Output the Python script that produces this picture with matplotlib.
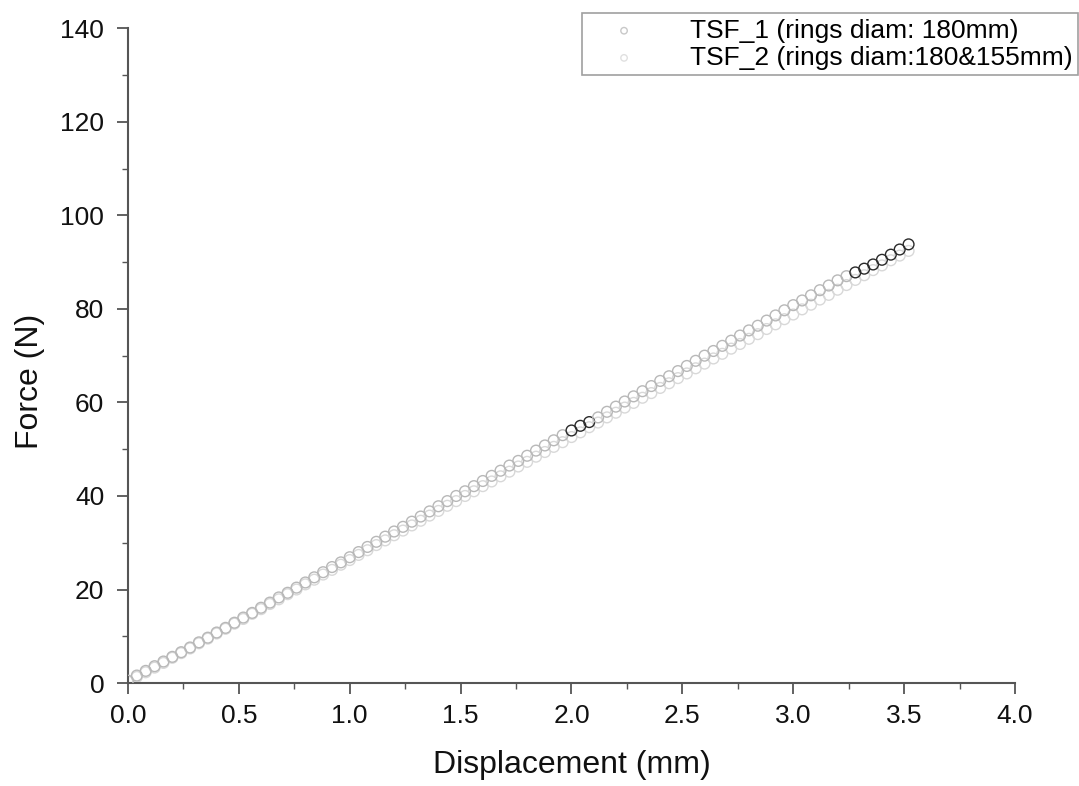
import matplotlib
matplotlib.use("Agg")
import matplotlib.pyplot as plt
from matplotlib.ticker import MultipleLocator

plt.rcParams['font.family'] = ['Liberation Sans', 'DejaVu Sans']

# Displacement (mm)
disp = [0.00, 0.04, 0.08, 0.12, 0.16, 0.20, 0.24, 0.28, 0.32, 0.36,
        0.40, 0.44, 0.48, 0.52, 0.56, 0.60, 0.64, 0.68, 0.72, 0.76,
        0.80, 0.84, 0.88, 0.92, 0.96, 1.00, 1.04, 1.08, 1.12, 1.16,
        1.20, 1.24, 1.28, 1.32, 1.36, 1.40, 1.44, 1.48, 1.52, 1.56,
        1.60, 1.64, 1.68, 1.72, 1.76, 1.80, 1.84, 1.88, 1.92, 1.96,
        2.00, 2.04, 2.08, 2.12, 2.16, 2.20, 2.24, 2.28, 2.32, 2.36,
        2.40, 2.44, 2.48, 2.52, 2.56, 2.60, 2.64, 2.68, 2.72, 2.76,
        2.80, 2.84, 2.88, 2.92, 2.96, 3.00, 3.04, 3.08, 3.12, 3.16,
        3.20, 3.24, 3.28, 3.32, 3.36, 3.40, 3.44, 3.48, 3.52]

# TSF_1 force (N)
tsf1 = [0.5, 1.6, 2.6, 3.6, 4.6, 5.6, 6.6, 7.6, 8.7, 9.7,
        10.8, 11.8, 12.9, 14.0, 15.0, 16.1, 17.2, 18.3, 19.3, 20.4,
        21.5, 22.6, 23.7, 24.8, 25.8, 26.9, 28.0, 29.1, 30.2, 31.3,
        32.4, 33.4, 34.5, 35.6, 36.7, 37.8, 38.9, 40.0, 41.0, 42.1,
        43.2, 44.3, 45.4, 46.5, 47.5, 48.6, 49.7, 50.8, 51.9, 53.0,
        54.0, 55.0, 55.8, 56.8, 58.0, 59.1, 60.2, 61.3, 62.4, 63.5,
        64.6, 65.6, 66.7, 67.8, 68.9, 70.0, 71.0, 72.1, 73.2, 74.3,
        75.4, 76.4, 77.5, 78.6, 79.7, 80.8, 81.8, 82.9, 84.0, 85.0,
        86.1, 87.0, 87.8, 88.6, 89.5, 90.5, 91.6, 92.7, 93.8]

# TSF_2 force (N)
tsf2 = [0.3, 1.3, 2.3, 3.3, 4.3, 5.4, 6.4, 7.4, 8.5, 9.5,
        10.6, 11.6, 12.7, 13.7, 14.8, 15.8, 16.9, 17.9, 19.0, 20.0,
        21.1, 22.1, 23.2, 24.2, 25.3, 26.3, 27.4, 28.4, 29.5, 30.5,
        31.6, 32.6, 33.7, 34.7, 35.8, 36.8, 37.9, 38.9, 40.0, 41.0,
        42.1, 43.1, 44.2, 45.2, 46.3, 47.3, 48.4, 49.4, 50.5, 51.5,
        52.6, 53.6, 54.7, 55.7, 56.8, 57.8, 58.9, 59.9, 61.0, 62.0,
        63.1, 64.1, 65.2, 66.2, 67.3, 68.3, 69.4, 70.4, 71.5, 72.5,
        73.6, 74.6, 75.7, 76.7, 77.8, 78.8, 79.9, 80.9, 82.0, 83.0,
        84.1, 85.1, 86.2, 87.2, 88.3, 89.3, 90.4, 91.4, 92.4]

labels = ["TSF_1 (rings diam: 180mm)", "TSF_2 (rings diam:180&155mm)"]
xtick_labels = ['0.0', '0.5', '1.0', '1.5', '2.0', '2.5', '3.0', '3.5', '4.0']

fig = plt.figure(figsize=(10.79, 7.86), dpi=100)
ax = fig.add_axes([0.1186, 0.131, 0.8221, 0.833])

# per-point edge colour for TSF_1 (scan shows darker circles in two stretches)
c1 = ['#2a2a2a' if (2.0 <= x <= 2.1 or x >= 3.28) else '#b8b8b8' for x in disp]

ax.scatter(disp, tsf2, s=60, facecolors='none', edgecolors='#d8d8d8',
           linewidths=1.0, label=labels[1], zorder=2)
ax.scatter(disp, tsf1, s=60, facecolors='none', edgecolors=c1,
           linewidths=1.0, label=labels[0], zorder=3)

ax.set_xlim(0, 4.0)
ax.set_ylim(0, 140)
ax.set_xticks([0, 0.5, 1.0, 1.5, 2.0, 2.5, 3.0, 3.5, 4.0])
ax.set_xticklabels(xtick_labels)
ax.xaxis.set_minor_locator(MultipleLocator(0.25))
ax.yaxis.set_major_locator(MultipleLocator(20))
ax.yaxis.set_minor_locator(MultipleLocator(10))

for s in ['top', 'right']:
    ax.spines[s].set_visible(False)
for s in ['left', 'bottom']:
    ax.spines[s].set_color('#555555')
    ax.spines[s].set_linewidth(1.5)

ax.tick_params(which='major', direction='out', length=8, width=1.3,
               colors='#555555', labelcolor='#111111', labelsize=19, pad=7)
ax.tick_params(axis='y', which='major', pad=9)
ax.tick_params(which='minor', direction='out', length=4, width=1.0,
               colors='#555555')

ax.set_xlabel('Displacement (mm)', fontsize=23, color='#111111', labelpad=16)
ax.set_ylabel('Force (N)', fontsize=23, color='#111111')
ax.yaxis.set_label_coords(-0.094, 0.46)

handles, labs = ax.get_legend_handles_labels()
order = [1, 0]
leg = fig.legend([handles[i] for i in order], [labs[i] for i in order],
                 loc='upper right', bbox_to_anchor=(0.999, 0.983),
                 fontsize=19, frameon=True, fancybox=False,
                 edgecolor='#888888', borderpad=0.2, handletextpad=1.1,
                 handlelength=2.8, labelspacing=0.12, markerscale=0.6,
                 borderaxespad=0.0)
leg.get_frame().set_linewidth(1.2)
leg.legend_handles[0].set_edgecolor('#c8c8c8')
leg.legend_handles[1].set_edgecolor('#e0e0e0')

fig.savefig('out.png', dpi=100)
